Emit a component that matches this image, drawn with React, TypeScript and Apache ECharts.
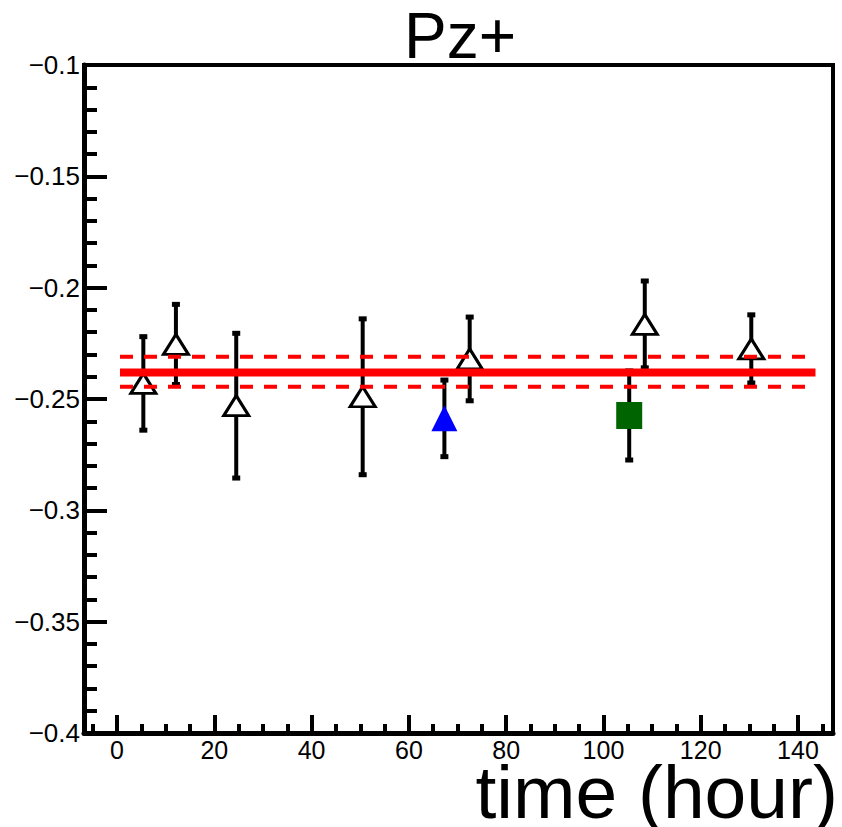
import React, { useEffect, useRef } from "react";
import * as echarts from "echarts";

// ---- axes ----
const xMin = -6.8;
const xMax = 147.2;
const yMin = -0.4;
const yMax = -0.1;
const xMajorTicks = [0, 20, 40, 60, 80, 100, 120, 140];
const xMinorTicks = [-5, 5, 10, 15, 25, 30, 35, 45, 50, 55, 65, 70, 75, 85, 90, 95, 105, 110, 115, 125, 130, 135, 145];
const yMajorTicks = [-0.4, -0.35, -0.3, -0.25, -0.2, -0.15, -0.1];
const yMinorTicks = [
  -0.39, -0.38, -0.37, -0.36, -0.34, -0.33, -0.32, -0.31, -0.29, -0.28, -0.27, -0.26,
  -0.24, -0.23, -0.22, -0.21, -0.19, -0.18, -0.17, -0.16, -0.14, -0.13, -0.12, -0.11,
];

// ---- data ----
const openX = [5.4, 12.1, 24.5, 50.5, 72.5, 108.5, 130.4];
const openY = [-0.2430, -0.2255, -0.2530, -0.2490, -0.2320, -0.2165, -0.2275];
const openErr = [0.0210, 0.0180, 0.0325, 0.0350, 0.0188, 0.0195, 0.0153];

const blueX = [67.3];
const blueY = [-0.2587];
const blueErr = [0.0172];

const greenX = [105.3];
const greenY = [-0.2574];
const greenErr = [0.0200];

const fitRange = [0.6, 143.6];
const fitValue = -0.2381;
const fitUpper = -0.2310;
const fitLower = -0.2445;

const titleText = "Pz+";
const xAxisTitle = "time (hour)";

const FONT = "'Liberation Sans', Arial, sans-serif";

export default function App() {
  const ref = useRef<HTMLDivElement>(null);

  useEffect(() => {
    if (!ref.current) return;
    const chart = echarts.init(ref.current, undefined, { renderer: "svg" });

    const errData: number[][] = [];
    openX.forEach((x, i) => errData.push([x, openY[i], openErr[i]]));
    blueX.forEach((x, i) => errData.push([x, blueY[i], blueErr[i]]));
    greenX.forEach((x, i) => errData.push([x, greenY[i], greenErr[i]]));

    const fmtY = (v: number) => String(v).replace("-", "\u2212");

    const option: any = {
      animation: false,
      backgroundColor: "#ffffff",
      grid: {
        left: 84,
        top: 65,
        width: 749,
        height: 668,
        show: true,
        borderColor: "#000",
        borderWidth: 4,
        backgroundColor: "transparent",
        containLabel: false,
        outerBoundsMode: "none",
      },
      xAxis: [
        {
          type: "value",
          min: xMin,
          max: xMax,
          position: "bottom",
          axisLine: { show: true, onZero: false, lineStyle: { color: "#000", width: 5 } },
          axisTick: {
            show: true,
            inside: true,
            length: 18,
            customValues: xMajorTicks,
            lineStyle: { color: "#000", width: 4 },
          },
          axisLabel: {
            show: true,
            customValues: xMajorTicks,
            margin: 4,
            color: "#000",
            fontSize: 25,
            fontFamily: FONT,
          },
          splitLine: { show: false },
        },
        {
          type: "value",
          min: xMin,
          max: xMax,
          position: "bottom",
          axisLine: { show: false, onZero: false },
          axisTick: {
            show: true,
            inside: true,
            length: 9,
            customValues: xMinorTicks,
            lineStyle: { color: "#000", width: 4 },
          },
          axisLabel: { show: false },
          splitLine: { show: false },
        },
      ],
      yAxis: [
        {
          type: "value",
          min: yMin,
          max: yMax,
          position: "left",
          axisLine: { show: true, onZero: false, lineStyle: { color: "#000", width: 5 } },
          axisTick: {
            show: true,
            inside: true,
            length: 23,
            customValues: yMajorTicks,
            lineStyle: { color: "#000", width: 4 },
          },
          axisLabel: {
            show: true,
            customValues: yMajorTicks,
            margin: 4,
            color: "#000",
            fontSize: 26,
            fontFamily: FONT,
            formatter: fmtY,
          },
          splitLine: { show: false },
        },
        {
          type: "value",
          min: yMin,
          max: yMax,
          position: "left",
          axisLine: { show: false, onZero: false },
          axisTick: {
            show: true,
            inside: true,
            length: 13,
            customValues: yMinorTicks,
            lineStyle: { color: "#000", width: 4 },
          },
          axisLabel: { show: false },
          splitLine: { show: false },
        },
      ],
      graphic: [
        {
          type: "text",
          x: 460,
          y: 36,
          style: {
            text: titleText,
            fontSize: 64,
            fontFamily: FONT,
            fill: "#000",
            align: "center",
            verticalAlign: "middle",
          },
        },
        {
          type: "text",
          x: 838,
          y: 792,
          style: {
            text: xAxisTitle,
            fontSize: 75,
            lineHeight: 58,
            fontFamily: FONT,
            fill: "#000",
            align: "right",
            verticalAlign: "middle",
          },
        },
      ],
      series: [
        {
          type: "custom",
          xAxisIndex: 0,
          yAxisIndex: 0,
          z: 2,
          data: errData,
          renderItem: (params: any, api: any) => {
            const x = api.value(0);
            const y = api.value(1);
            const e = api.value(2);
            const top = api.coord([x, y + e]);
            const bot = api.coord([x, y - e]);
            const cw = 4;
            return {
              type: "group",
              children: [
                { type: "line", shape: { x1: top[0], y1: top[1], x2: bot[0], y2: bot[1] }, style: { stroke: "#000", lineWidth: 4 } },
                { type: "line", shape: { x1: top[0] - cw, y1: top[1], x2: top[0] + cw, y2: top[1] }, style: { stroke: "#000", lineWidth: 5 } },
                { type: "line", shape: { x1: bot[0] - cw, y1: bot[1], x2: bot[0] + cw, y2: bot[1] }, style: { stroke: "#000", lineWidth: 5 } },
              ],
            };
          },
        },
        {
          type: "scatter",
          z: 3,
          symbol: "triangle",
          symbolSize: [25, 20],
          itemStyle: { color: "#fff", borderColor: "#000", borderWidth: 3, opacity: 1 },
          data: openX.map((x, i) => [x, openY[i]]),
        },
        {
          type: "scatter",
          z: 3,
          symbol: "triangle",
          symbolSize: [26, 26],
          itemStyle: { color: "#0000ff", opacity: 1 },
          data: blueX.map((x, i) => [x, blueY[i]]),
        },
        {
          type: "scatter",
          z: 3,
          symbol: "rect",
          symbolSize: [26, 27],
          itemStyle: { color: "#006400", opacity: 1 },
          data: greenX.map((x, i) => [x, greenY[i]]),
        },
        {
          type: "line",
          z: 4,
          symbol: "none",
          lineStyle: { color: "#ff0000", width: 8 },
          data: fitRange.map((x) => [x, fitValue]),
        },
        {
          type: "line",
          z: 4,
          symbol: "none",
          lineStyle: { color: "#ff0000", width: 4, type: [13, 11] },
          data: fitRange.map((x) => [x, fitUpper]),
        },
        {
          type: "line",
          z: 4,
          symbol: "none",
          lineStyle: { color: "#ff0000", width: 4, type: [13, 11] },
          data: fitRange.map((x) => [x, fitLower]),
        },
      ],
    };

    chart.setOption(option);
    return () => chart.dispose();
  }, []);

  return (
    <div
      ref={ref}
      style={{ position: "absolute", left: 0, top: 0, width: 842, height: 827 }}
    />
  );
}
